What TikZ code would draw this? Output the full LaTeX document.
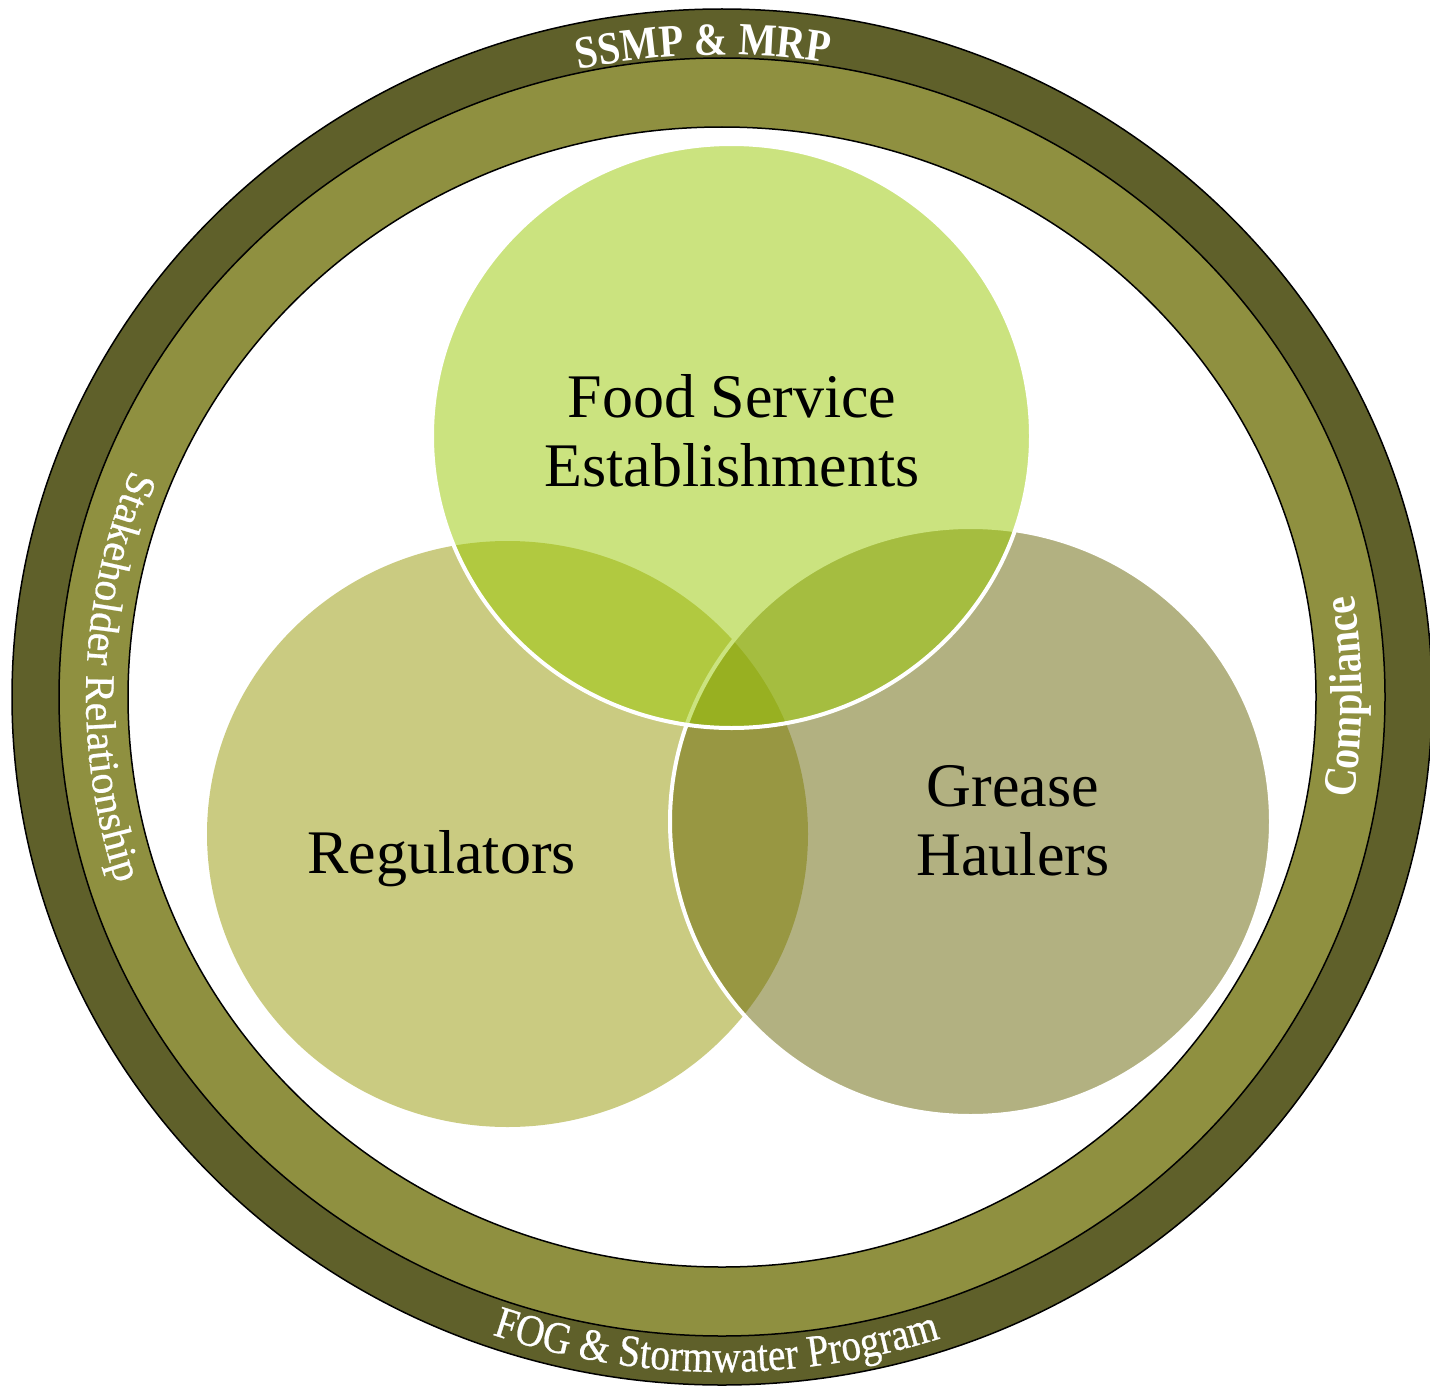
\documentclass[tikz,border=0pt]{standalone}
\usepackage{fontspec}
\setmainfont{Liberation Serif}
\newfontfamily\ringfont[FakeStretch=0.87]{Liberation Serif}
\newfontfamily\ringfontreg[FakeBold=0.6]{Liberation Serif}
\newfontfamily\ringfontregn[FakeStretch=0.87,FakeBold=0.6]{Liberation Serif}
\usetikzlibrary{decorations.text}
\definecolor{ringdark}{RGB}{95,96,42}
\definecolor{ringolive}{RGB}{143,144,64}
\definecolor{regc}{RGB}{151,153,5}
\definecolor{greasec}{RGB}{103,101,5}
\definecolor{foodc}{RGB}{153,201,1}
\begin{document}
\begin{tikzpicture}[x=1pt,y=1pt,
  ringline/.style={draw=black,line width=1.5pt},
  venn/.style={fill opacity=0.5,draw=white,line width=4pt},
  lbl/.style={font=\fontsize{62}{69}\selectfont,align=center,inner sep=0pt,text=black},
  ringtext/.style={decorate,decoration={text along path,text align=center,text color=white,text={#1}}}
]
\useasboundingbox (0,0) rectangle (1430,-1386);
\coordinate (c) at (722,-697);
% rings
\filldraw[ringline,fill=ringdark] (c) ellipse [x radius=710,y radius=688];
\filldraw[ringline,fill=ringolive] (c) ellipse [x radius=663,y radius=639];
\filldraw[ringline,fill=white] (c) ellipse [x radius=594,y radius=570];
% venn circles
\coordinate (creg) at (507.5,-834);
\coordinate (cgrease) at (970.5,-821.5);
\coordinate (cfood) at (731.5,-436);
\fill[regc,fill opacity=0.5] (creg) ellipse [x radius=300.5,y radius=293];
\filldraw[venn,fill=greasec] (cgrease) ellipse [x radius=300.5,y radius=294.5];
\filldraw[venn,fill=foodc] (cfood) ellipse [x radius=299.5,y radius=292];
% labels
\node[lbl] (food) at (732,-430.5) {Food Service\\Establishments};
\node[lbl,anchor=base] (reg) at (441.5,-873) {Regulators};
\node[lbl] (grease) at (1013,-820.5) {Grease\\Haulers};
% ring texts
\path[ringtext={|\ringfont\bfseries\fontsize{46}{46}\selectfont|SSMP {\&} MRP}]
  (c) ++(121.6:666 and 642) arc[start angle=121.6,end angle=61.6,x radius=666,y radius=642];
\path[ringtext={|\ringfontregn\fontsize{45}{45}\selectfont|FOG {\&} Stormwater Program}]
  (c) ++(224.5:699 and 675) arc[start angle=224.5,end angle=314.5,x radius=699,y radius=675];
\path[ringtext={|\ringfontreg\fontsize{42}{42}\selectfont|Stakeholder Relationship}]
  (c) ++(138:636 and 612) arc[start angle=138,end angle=218,x radius=636,y radius=612];
\path[ringtext={|\ringfont\bfseries\fontsize{46}{46}\selectfont|Compliance}]
  (c) ++(-30:640 and 616) arc[start angle=-30,end angle=30,x radius=640,y radius=616];
\end{tikzpicture}
\end{document}
